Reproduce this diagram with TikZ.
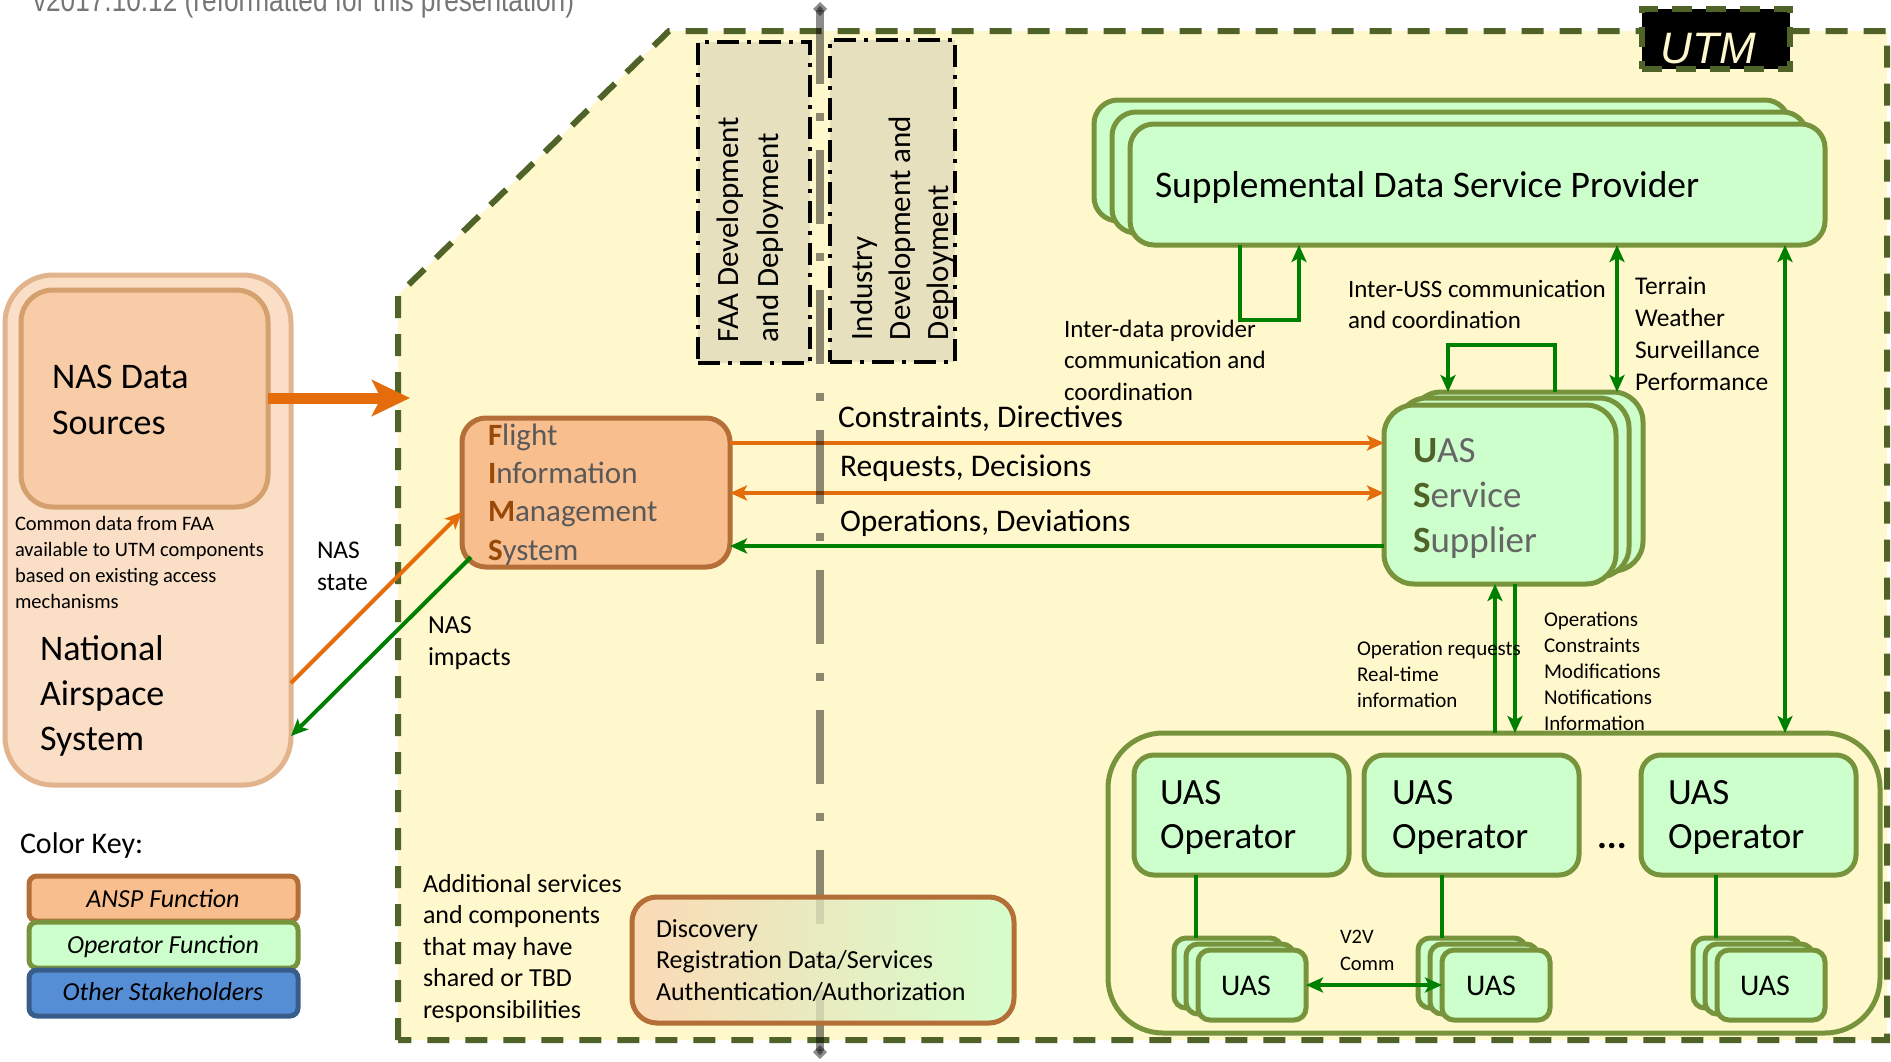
\documentclass[tikz,border=0pt]{standalone}
\usepackage{fontspec}
\setmainfont{Carlito}
\newfontfamily\headfont{Liberation Sans}
\usetikzlibrary{arrows.meta}
\definecolor{utmfill}{HTML}{FFF8CC}
\definecolor{utmolive}{HTML}{4F6228}
\definecolor{grnborder}{HTML}{77933C}
\definecolor{grnfill}{HTML}{CCFFCC}
\definecolor{orarrow}{HTML}{E46C0A}
\definecolor{grarrow}{HTML}{008000}
\definecolor{fimsfill}{HTML}{F8BE8E}
\definecolor{fimsborder}{HTML}{B46E37}
\definecolor{nasoutfill}{HTML}{FADEC6}
\definecolor{nasoutborder}{HTML}{E2B48E}
\definecolor{nasinfill}{HTML}{F8CCA6}
\definecolor{nasinborder}{HTML}{D4A06E}
\definecolor{fimsletter}{HTML}{984807}
\definecolor{fimsgrey}{HTML}{595959}
\definecolor{ussgrey}{HTML}{666666}
\definecolor{ussletter}{HTML}{4F6228}
\definecolor{devfill}{HTML}{E6E0BE}
\definecolor{stakefill}{HTML}{558ED5}
\definecolor{stakeborder}{HTML}{385D8A}
\definecolor{discleft}{HTML}{FAD3B0}
\definecolor{headgrey}{HTML}{767676}
\newcommand\fsz[2]{\fontsize{#1}{#2}\selectfont}
\newcommand\fimsl[1]{\textcolor{fimsletter}{\textbf{#1}}}
\newcommand\ussl[1]{\textcolor{ussletter}{\textbf{#1}}}
\begin{document}
\begin{tikzpicture}[x=1pt,y=-1pt,
  rbox/.style={inner sep=0pt, outer sep=0pt, anchor=north west, line width=5pt},
  grnbox/.style={rbox, draw=grnborder, fill=grnfill},
  txt/.style={inner sep=0pt, outer sep=0pt, anchor=base west, align=left},
  ctxt/.style={inner sep=0pt, outer sep=0pt, anchor=base},
  oarrow/.style={draw=orarrow, line width=4.5pt},
  garrow/.style={draw=grarrow, line width=4.5pt},
  >={Stealth[length=17pt,width=15pt,inset=4pt]},
  devbox/.style={rbox, draw=black, fill=devfill, line width=4pt, dash pattern=on 22pt off 8pt on 4pt off 8pt},
]
\useasboundingbox (0,0) rectangle (1891,1061);

% UTM region
\path[fill=utmfill] (398,295) -- (669,31) -- (1887,31) -- (1887,1040) -- (398,1040) -- cycle;
\draw[utmolive, line width=6pt, dash pattern=on 22pt off 16pt] (398,1040) -- (398,295) -- (669,31) -- (1887,31) -- (1887,1040) -- cycle;

% header
\node[txt, text=headgrey, font=\headfont\fsz{32}{38}] (hdr) at (33,11) {\scalebox{0.82}[1]{v2017.10.12 (reformatted for this presentation)}};

% NAS boxes
\node[rbox, draw=nasoutborder, fill=nasoutfill, rounded corners=48pt, minimum width=286pt, minimum height=510pt] (nas) at (5,275) {};
\node[rbox, draw=nasinborder, fill=nasinfill, rounded corners=32pt, minimum width=247pt, minimum height=217pt] (nasds) at (21,290) {};

% development boxes
\node[devbox, minimum width=112pt, minimum height=321pt] (faa) at (698,42) {};
\node[devbox, minimum width=125pt, minimum height=322pt] (ind) at (830,40) {};

% SDSP stack
\node[grnbox, rounded corners=24pt, minimum width=695pt, minimum height=121pt] (sdsp3) at (1094,100) {};
\node[grnbox, rounded corners=24pt, minimum width=695pt, minimum height=121pt] (sdsp2) at (1112,112) {};
\node[grnbox, rounded corners=24pt, minimum width=695pt, minimum height=121pt] (sdsp) at (1130,124) {};

% USS stack
\node[grnbox, rounded corners=30pt, minimum width=232pt, minimum height=179pt] (uss3) at (1411,392) {};
\node[grnbox, rounded corners=30pt, minimum width=232pt, minimum height=179pt] (uss2) at (1397,398) {};
\node[grnbox, rounded corners=30pt, minimum width=232pt, minimum height=179pt] (uss) at (1384,405) {};

% operators group
\node[rbox, draw=grnborder, rounded corners=55pt, minimum width=772pt, minimum height=300pt] (opgroup) at (1108,733) {};
\node[grnbox, rounded corners=20pt, minimum width=215pt, minimum height=120pt] (op1) at (1134,755) {};
\node[grnbox, rounded corners=20pt, minimum width=215pt, minimum height=120pt] (op2) at (1364,755) {};
\node[grnbox, rounded corners=20pt, minimum width=215pt, minimum height=120pt] (op3) at (1641,755) {};

% UAS stacks
\tikzset{uasbox/.style={grnbox, rounded corners=12pt, minimum width=108pt, minimum height=70pt}}
\node[uasbox] (uasA3) at (1174,938) {};
\node[uasbox] (uasA2) at (1186,944) {};
\node[uasbox] (uasA) at (1198,950) {};
\node[uasbox] (uasB3) at (1418,938) {};
\node[uasbox] (uasB2) at (1430,944) {};
\node[uasbox] (uasB) at (1442,950) {};
\node[uasbox] (uasC3) at (1693,938) {};
\node[uasbox] (uasC2) at (1705,944) {};
\node[uasbox] (uasC) at (1717,950) {};

% FIMS
\node[rbox, draw=fimsborder, fill=fimsfill, rounded corners=24pt, minimum width=268pt, minimum height=149pt] (fims) at (462,418) {};

% colour key
\node[rbox, draw=fimsborder, fill=fimsfill, rounded corners=8pt, minimum width=269pt, minimum height=45pt] (keyA) at (29,876) {};
\node[grnbox, rounded corners=8pt, minimum width=269pt, minimum height=46pt] (keyO) at (29,922) {};
\node[rbox, draw=stakeborder, fill=stakefill, rounded corners=8pt, minimum width=269pt, minimum height=46pt] (keyS) at (29,970) {};

% UTM label box
\node[rbox, fill=black, draw=utmolive, line width=6pt, dash pattern=on 20pt off 14pt, minimum width=148pt, minimum height=60pt] (utmbox) at (1642,9) {};

% ---------- connectors ----------
\coordinate (nastip) at (410,398);
\draw[orarrow, line width=11pt, -{Stealth[length=38pt,width=36pt,inset=9pt]}] (nasds.east |- nastip) -- (nastip);

\coordinate (ystate) at (0,683);
\coordinate (yfimsin) at (0,512);
\draw[oarrow, line width=4pt, ->] (nas.east |- ystate) -- (fims.west |- yfimsin);
\coordinate (impstart) at (471,557);
\coordinate (yimp) at (0,736);
\draw[garrow, line width=4pt, ->] (impstart) -- (nas.east |- yimp);

\coordinate (yCD) at (0,443);
\coordinate (yRD) at (0,493);
\coordinate (yOD) at (0,546);
\draw[oarrow, ->] (fims.east |- yCD) -- (uss.west |- yCD);
\draw[oarrow, <->] (fims.east |- yRD) -- (uss.west |- yRD);
\draw[garrow, ->] (uss.west |- yOD) -- (fims.east |- yOD);

% SDSP self loop
\coordinate (xL1) at (1240,0);
\coordinate (xL2) at (1299,0);
\coordinate (yL) at (0,320);
\draw[garrow, ->] (sdsp.south -| xL1) -- (xL1 |- yL) -- (xL2 |- yL) -- (sdsp.south -| xL2);

% USS self loop
\coordinate (xU1) at (1555,0);
\coordinate (xU2) at (1448,0);
\coordinate (yU) at (0,345);
\draw[garrow, ->] (uss3.north -| xU1) -- (xU1 |- yU) -- (xU2 |- yU) -- (uss3.north -| xU2);

% SDSP - USS and SDSP - operators
\coordinate (xT) at (1617,0);
\draw[garrow, <->] (sdsp.south -| xT) -- (uss3.north -| xT);
\coordinate (xR) at (1785,0);
\draw[garrow, <->] (sdsp.south -| xR) -- (opgroup.north -| xR);

% USS - operators
\coordinate (xUp) at (1495,0);
\coordinate (xDn) at (1515,0);
\draw[garrow, ->] (opgroup.north -| xUp) -- (uss.south -| xUp);
\draw[garrow, ->] (uss.south -| xDn) -- (opgroup.north -| xDn);

% operators to UAS
\coordinate (xo1) at (1196,0);
\coordinate (xo2) at (1442,0);
\coordinate (xo3) at (1716,0);
\draw[garrow, line width=4pt] (op1.south -| xo1) -- (uasA3.north -| xo1);
\draw[garrow, line width=4pt] (op2.south -| xo2) -- (uasB3.north -| xo2);
\draw[garrow, line width=4pt] (op3.south -| xo3) -- (uasC3.north -| xo3);

% V2V
\draw[garrow, <->] (uasA.east) -- (uasB.west);

% dash-dot divider
\coordinate (dtop) at (820,2);
\coordinate (dbot) at (820,1059);
\draw[black, opacity=0.45, line width=8pt, dash pattern=on 74pt off 29pt on 8pt off 29pt,
  {Diamond[length=14pt,width=14pt]}-{Diamond[length=14pt,width=14pt]}] (dtop) -- (dbot);

% Discovery box
\node[rbox, draw=fimsborder, left color=discleft, right color=grnfill, fill opacity=0.8, draw opacity=1, rounded corners=25pt, minimum width=382pt, minimum height=126pt] (disc) at (632,897) {};

% ---------- texts (base = last line) ----------
\node[txt, font=\fsz{36}{46}] (tNDS) at (52,434) {NAS Data\\Sources};
\node[txt, font=\fsz{20.5}{26}] (tCommon) at (15,608) {Common data from FAA\\available to UTM components\\based on existing access\\mechanisms};
\node[txt, font=\fsz{36}{45}] (tNAS) at (40,750) {National\\Airspace\\System};
\node[txt, font=\fsz{25.5}{32}] (tState) at (317,590) {NAS\\state};
\node[txt, font=\fsz{26}{32}] (tImp) at (428,665) {NAS\\impacts};
\node[txt, font=\fsz{31}{38.3}, text=fimsgrey] (tFIMS) at (488,560) {\fimsl{F}light\\\fimsl{I}nformation\\\fimsl{M}anagement\\\fimsl{S}ystem};
\node[txt, font=\fsz{31.5}{38}] (tCD) at (838,427) {Constraints, Directives};
\node[txt, font=\fsz{31.5}{38}] (tRD) at (840,476) {Requests, Decisions};
\node[txt, font=\fsz{31.5}{38}] (tOD) at (840,531) {Operations, Deviations};
\node[txt, rotate=90, font=\fsz{31}{40}] (tFAA) at (778,342) {FAA Development\\and Deployment};
\node[txt, rotate=90, font=\fsz{31}{38}] (tInd) at (948,340) {Industry\\Development and\\Deployment};
\node[txt, font=\fsz{37.5}{45}] (tSDSP) at (1155,197) {Supplemental Data Service Provider};
\node[txt, font=\fsz{37}{45}, text=ussgrey] (tUSS) at (1413,552) {\ussl{U}AS\\\ussl{S}ervice\\\ussl{S}upplier};
\node[txt, font=\fsz{25}{31.5}] (tIDP) at (1064,400) {Inter-data provider\\communication and\\coordination};
\node[txt, font=\fsz{25}{31.5}] (tIUSS) at (1348,328.5) {Inter-USS communication\\and coordination};
\node[txt, font=\fsz{25.5}{32}] (tTerr) at (1635,390) {Terrain\\Weather\\Surveillance\\Performance};
\node[txt, font=\fsz{21}{26}] (tOpReq) at (1357,707) {Operation requests\\Real-time\\information};
\node[txt, font=\fsz{21}{25.8}] (tOps) at (1544,730) {Operations\\Constraints\\Modifications\\Notifications\\Information};
\node[txt, font=\fsz{37}{44}] (tOp1) at (1160,848) {UAS\\Operator};
\node[txt, font=\fsz{37}{44}] (tOp2) at (1392,848) {UAS\\Operator};
\node[txt, font=\fsz{37}{44}] (tOp3) at (1668,848) {UAS\\Operator};
\node[txt, font=\fsz{37}{44}\bfseries] (tDots) at (1597,848) {...};
\node[ctxt, font=\fsz{30}{36}] (tUA) at (1246,995) {UAS};
\node[ctxt, font=\fsz{30}{36}] (tUB) at (1491,995) {UAS};
\node[ctxt, font=\fsz{30}{36}] (tUC) at (1765,995) {UAS};
\node[txt, font=\fsz{20.5}{27}] (tV2V) at (1340,970) {V2V\\Comm};
\node[txt, font=\fsz{26}{31.5}] (tAdd) at (423,1018) {Additional services\\and components\\that may have\\shared or TBD\\responsibilities};
\node[txt, font=\fsz{26}{31.5}] (tDisc) at (656,1000) {Discovery\\Registration Data/Services\\Authentication/Authorization};
\node[txt, font=\fsz{30}{36}] (tKey) at (20,853) {Color Key:};
\node[ctxt, font=\fsz{26}{32}\itshape] (tKA) at (163,907) {ANSP Function};
\node[ctxt, font=\fsz{26}{32}\itshape] (tKO) at (163,953) {Operator Function};
\node[ctxt, font=\fsz{26}{32}\itshape] (tKS) at (163,1000) {Other Stakeholders};
\node[ctxt, font=\headfont\itshape\fsz{44}{50}, text=utmfill] (tUTM) at (1708,63) {UTM};
\end{tikzpicture}
\end{document}
